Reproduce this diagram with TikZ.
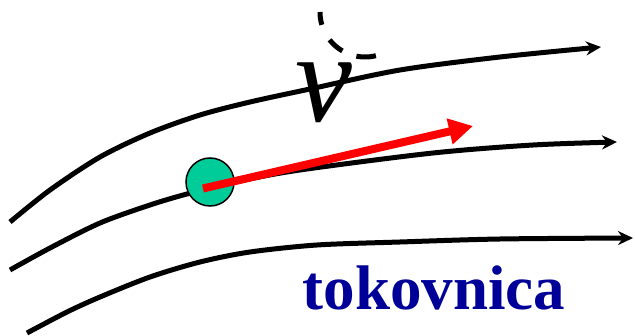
\documentclass[tikz,border=0pt]{standalone}
\usepackage{fontspec}
\setmainfont{Liberation Serif}
\usetikzlibrary{arrows.meta}
\definecolor{ballgreen}{HTML}{00CC99}
\definecolor{textblue}{HTML}{000099}
\tikzset{
  streamline/.style={line width=5pt, -{Stealth[length=15pt,width=14pt,inset=5pt]}},
  velocity/.style={line width=8pt, red, -{Triangle[length=24pt,width=25pt]}},
}
\begin{document}
\begin{tikzpicture}[x=1pt,y=-1pt]
\useasboundingbox (0,0) rectangle (635,336);
% streamlines
\draw[streamline] plot[smooth,tension=0.5] coordinates {(10,222) (50,190) (100,157) (150,133) (200,115) (250,102) (310,89) (400,70) (500,57) (601,47)};
\draw[streamline] plot[smooth,tension=0.5] coordinates {(10,270) (50,248) (100,223) (150,205) (187,194) (240,181) (300,170) (433,153) (533,145) (617,142)};
\draw[streamline] plot[smooth,tension=0.5] coordinates {(27,333) (67,312) (100,297) (150,277) (200,262) (250,252) (317,245) (400,242) (500,239) (633,238)};
% particle
\node[circle, draw=black, line width=1.5pt, fill=ballgreen, minimum size=48pt, inner sep=0pt] (p) at (210,182) {};
\coordinate (vtip) at (473,126);
\draw[velocity] (203,188.5) -- (vtip);
% velocity symbol
\node[anchor=base, inner sep=0pt, font=\fontsize{128}{128}\selectfont\itshape] (v) at (324,122) {v};
\draw[line width=5pt, dash pattern=on 13pt off 17pt on 17pt off 15pt on 21pt] plot[domain=180:76, samples=40] ({365+45*cos(\x)}, {12+45*sin(\x)});
% label
\node[anchor=base, inner sep=0pt, text=textblue, font=\fontsize{63}{63}\selectfont\bfseries] (lbl) at (434,310) {tokovnica};
\end{tikzpicture}
\end{document}
